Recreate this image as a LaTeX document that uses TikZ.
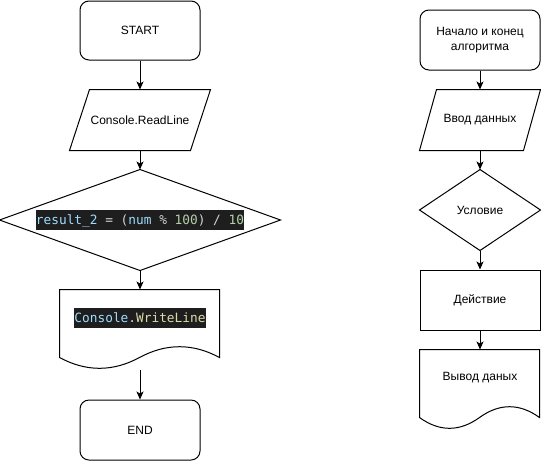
\documentclass[tikz,border=0pt]{standalone}
\usepackage{fontspec}
\setmainfont{Liberation Sans}
\newfontfamily\codefont{DejaVu Sans Mono}
\usetikzlibrary{arrows.meta,calc}
\definecolor{codebg}{HTML}{1E1E1E}
\definecolor{codevar}{HTML}{9CDCFE}
\definecolor{codetxt}{HTML}{D4D4D4}
\definecolor{codenum}{HTML}{B5CEA8}
\definecolor{codefn}{HTML}{DCDCAA}
\newcommand{\code}[1]{{\setlength{\fboxsep}{0pt}\colorbox{codebg}{\codefont\fontsize{9.6}{11}\selectfont\rule[-3.75pt]{0pt}{14.75pt}#1}}}
\newcommand{\docshape}[2]{\draw[shift={(#1.north west)}] (0,0) -- (#2,0) -- (#2,68)
  .. controls ({5*#2/6},53.6) and ({2*#2/3},53.6) .. ({#2/2},68)
  .. controls ({#2/3},82.4) and ({#2/6},82.4) .. (0,68) -- cycle;}

\begin{document}
\begin{tikzpicture}[x=0.75pt,y=-0.75pt,line width=0.75pt,
  every node/.style={font=\fontsize{9}{10.8}\selectfont,align=center,inner sep=0pt},
  term/.style={draw,rounded corners=6.75pt,minimum width=90pt,minimum height=45pt},
  blank/.style={minimum width=90pt,minimum height=45pt},
  arr/.style={-{Stealth[length=6pt,width=5.25pt,inset=1.5pt]}}]
\useasboundingbox (0,0) rectangle (541,461);

\node[term,minimum height=44.25pt] (start) at (140,30.5) {START};
\node[blank,minimum width=105pt] (read) at (140,120) {Console.ReadLine};
\node[blank,minimum width=210pt,minimum height=75pt] (cond) at (140,220)
  {\code{\textcolor{codevar}{result\_2} \textcolor{codetxt}{= (}\textcolor{codevar}{num} \textcolor{codetxt}{\%} \textcolor{codenum}{100}\textcolor{codetxt}{) /} \textcolor{codenum}{10}}};
\node[blank,minimum width=120pt,minimum height=42pt] (out) at (140,318)
  {\code{\textcolor{codevar}{Console}\textcolor{codetxt}{.}\textcolor{codefn}{WriteLine}}};
\coordinate (out-end) at (140,370);
\node[term] (end) at (140,430) {END};

\node[term] (begin) at (480,40) {Начало и конец\\алгоритма};
\node[blank] (rin) at (480,120) {Ввод данных};
\node[blank,minimum height=60pt] (rcond) at (480,210) {Условие};
\node[draw,blank] (act) at (480,300) {Действие};
\node[blank,minimum height=42pt] (rout) at (480,378) {Вывод даных};

\draw ($(read.north west)+(20,0)$) -- (read.north east) -- ($(read.south east)-(20,0)$) -- (read.south west) -- cycle;
\draw ($(rin.north west)+(17,0)$) -- (rin.north east) -- ($(rin.south east)-(17,0)$) -- (rin.south west) -- cycle;
\foreach \d in {cond,rcond}
  \draw (\d.north) -- (\d.east) -- (\d.south) -- (\d.west) -- cycle;
\docshape{out}{160}
\docshape{rout}{120}

\draw[arr] (start) -- (read);
\draw[arr] (read) -- (cond);
\draw[arr] (cond) -- (out);
\draw[arr] (out-end) -- (end);
\draw[arr] (begin) -- (rin);
\draw[arr] (rin) -- (rcond);
\draw[arr] (rcond) -- (act);
\draw[arr] (act) -- (rout);
\end{tikzpicture}
\end{document}
